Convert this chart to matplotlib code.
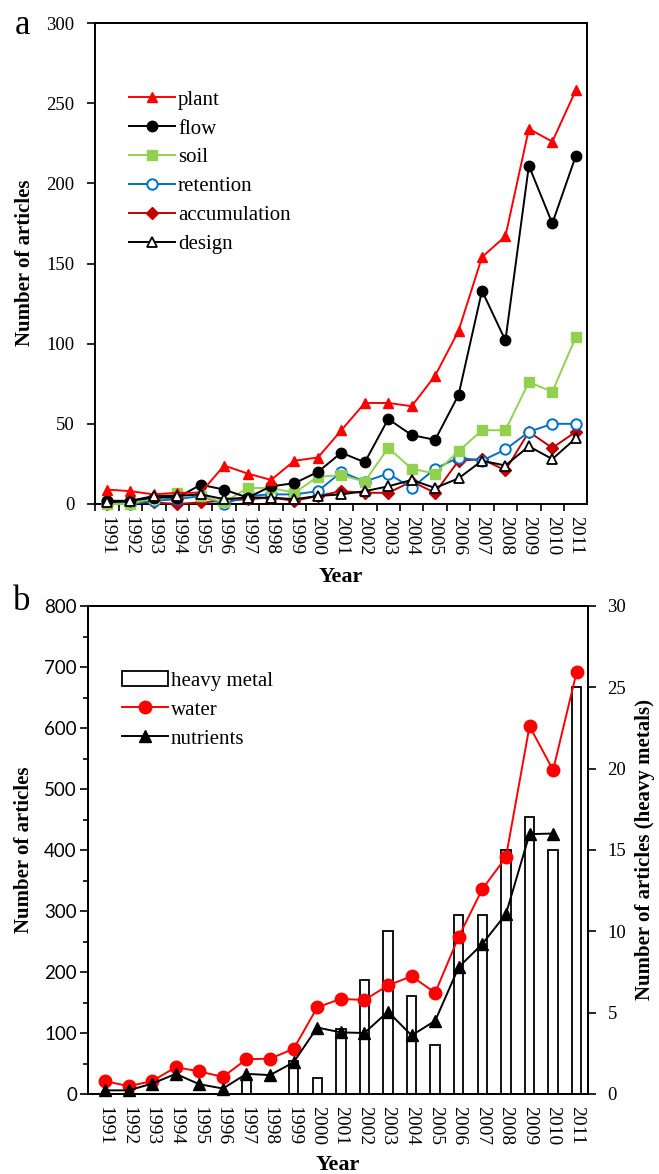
import matplotlib.pyplot as plt
from matplotlib.ticker import MultipleLocator, FixedLocator
import numpy as np

years = [str(y) for y in range(1991, 2012)]

# panel a
plant = [9, 8, 6, 7, 7, 24, 19, 15, 27, 29, 46, 63, 63, 61, 80, 108, 154, 167, 234, 226, 258]
flow = [2, 2, 4, 4, 12, 9, 4, 11, 13, 20, 32, 26, 53, 43, 40, 68, 133, 102, 211, 175, 217]
soil = [0, 0, 4, 7, 5, 1, 10, 10, 7, 17, 18, 14, 35, 22, 19, 33, 46, 46, 76, 70, 104]
retention = [2, 0, 2, 3, 5, 0, 5, 6, 6, 8, 20, 14, 19, 10, 22, 29, 27, 34, 45, 50, 50]
accumulation = [0, 1, 1, 0, 1, 2, 3, 4, 2, 5, 8, 7, 7, 14, 7, 27, 28, 21, 45, 35, 45]
design = [1, 2, 5, 5, 6, 3, 4, 4, 3, 5, 6, 8, 11, 15, 10, 16, 27, 24, 36, 28, 41]

# panel b
heavy_metal = [0, 0, 0, 0, 0, 0, 1, 0, 2, 1, 4, 7, 10, 6, 3, 11, 11, 15, 17, 15, 25]
water = [21, 13, 21, 44, 37, 28, 57, 58, 74, 142, 156, 154, 178, 193, 166, 258, 336, 388, 603, 531, 692]
nutrients = [6, 6, 17, 33, 16, 9, 33, 31, 52, 109, 101, 100, 135, 96, 120, 208, 246, 295, 426, 427, np.nan]

serif = 'Liberation Serif'
plt.rcParams['font.family'] = serif
plt.rcParams['font.size'] = 13

fig = plt.figure(figsize=(6.59, 11.74), dpi=100)
W, H = 659, 1174

x = np.arange(len(years))

# ---------- a ----------
ax = fig.add_axes([95 / W, 1 - 504 / H, 492 / W, 481 / H])
kw = dict(lw=1.4, ms=7.5, clip_on=False)
ax.plot(x, plant, color='#ff0000', marker='^', mfc='#ff0000', mec='#ff0000', label='plant', zorder=8, **kw)
ax.plot(x, flow, color='black', marker='o', label='flow', zorder=7, **kw)
ax.plot(x, soil, color='#92d050', marker='s', mfc='#92d050', mec='#92d050', label='soil', zorder=6, **kw)
ax.plot(x, retention, color='#0070c0', marker='o', mfc='white', mec='#0070c0', mew=1.4,
        label='retention', zorder=5, **kw)
ax.plot(x, accumulation, color='#c00000', marker='D', ms=6.5, lw=1.4, mfc='#c00000', mec='#c00000',
        label='accumulation', zorder=4, clip_on=False)
ax.plot(x, design, color='black', marker='^', mfc='white', mec='black', mew=1.3,
        label='design', zorder=9, **kw)

ax.set_xlim(-0.51, 20.48)
ax.set_ylim(0, 300)
ax.yaxis.set_major_locator(MultipleLocator(50))
ax.set_xticks(x)
ax.set_xticklabels(years, rotation=270)
ax.xaxis.set_minor_locator(FixedLocator(np.arange(-0.5, 21, 1)))
ax.tick_params(axis='x', which='major', length=0, pad=9, labelsize=14)
ax.tick_params(axis='x', which='minor', length=5, width=1.2, direction='out')
ax.tick_params(axis='y', which='major', length=6, width=1.2, direction='out', pad=9, labelsize=13.5)
for s in ax.spines.values():
    s.set_linewidth(1.4)

leg = ax.legend(loc='upper left', bbox_to_anchor=(129 / W, 1 - 90 / H), bbox_transform=fig.transFigure,
                frameon=False, fontsize=15, handlelength=2.2, handletextpad=0.15,
                labelspacing=0.45, borderaxespad=0, borderpad=0)

fig.text(22 / W, 1 - 25 / H, 'a', fontsize=25, ha='center', va='center')
fig.text(25 / W, 1 - 263 / H, 'Number of articles', rotation=90, fontsize=15,
         fontweight='bold', ha='center', va='center')
fig.text(341 / W, 1 - 577 / H, 'Year', fontsize=16, fontweight='bold', ha='center', va='center')

# ---------- b ----------
bx = fig.add_axes([88 / W, 1 - 1094 / H, 500 / W, 488 / H])
bx2 = bx.twinx()
bars = bx2.bar(x, heavy_metal, width=0.4, color='white', edgecolor='black', lw=1.3, label='heavy metal')
bx.set_zorder(bx2.get_zorder() + 1)
bx.patch.set_visible(False)
l1, = bx.plot(x, water, color='#ff0000', marker='o', ms=9, mfc='#ff0000', mec='#ff0000',
              lw=1.4, label='water', clip_on=False)
l2, = bx.plot(x, nutrients, color='black', marker='^', ms=8, lw=1.4, label='nutrients', clip_on=False)

bx.set_xlim(-0.72, 20.48)
bx.set_ylim(0, 800)
bx2.set_ylim(0, 30)
bx.yaxis.set_major_locator(MultipleLocator(100))
bx.yaxis.set_minor_locator(MultipleLocator(50))
bx2.yaxis.set_major_locator(MultipleLocator(5))
bx.set_xticks(x)
bx.set_xticklabels(years, rotation=270)
bx.tick_params(axis='x', which='major', length=0, pad=9, labelsize=14)
bx.tick_params(axis='y', which='major', length=6, width=1.2, direction='out', pad=2, labelsize=13.5)
bx.tick_params(axis='y', which='minor', length=3.5, width=1.2, direction='out')
for lab in bx.get_yticklabels():
    lab.set_family('Lato')
bx2.tick_params(axis='y', which='major', length=6, width=1.2, direction='out', pad=8, labelsize=13.5)
for s in list(bx.spines.values()) + list(bx2.spines.values()):
    s.set_linewidth(1.4)

bx.legend([bars, l1, l2], ['heavy metal', 'water', 'nutrients'], loc='upper left',
          bbox_to_anchor=(122 / W, 1 - 671 / H), bbox_transform=fig.transFigure,
          frameon=False, fontsize=15, handlelength=2.2, handletextpad=0.15,
          labelspacing=0.45, borderaxespad=0, borderpad=0)

fig.text(22 / W, 1 - 602 / H, 'b', fontsize=25, ha='center', va='center')
fig.text(24 / W, 1 - 850 / H, 'Number of articles', rotation=90, fontsize=15,
         fontweight='bold', ha='center', va='center')
fig.text(645 / W, 1 - 850 / H, 'Number of articles (heavy metals)', rotation=90, fontsize=15,
         fontweight='bold', ha='center', va='center')
fig.text(338 / W, 1 - 1165 / H, 'Year', fontsize=16, fontweight='bold', ha='center', va='center')

fig.savefig('out.png', dpi=100)
